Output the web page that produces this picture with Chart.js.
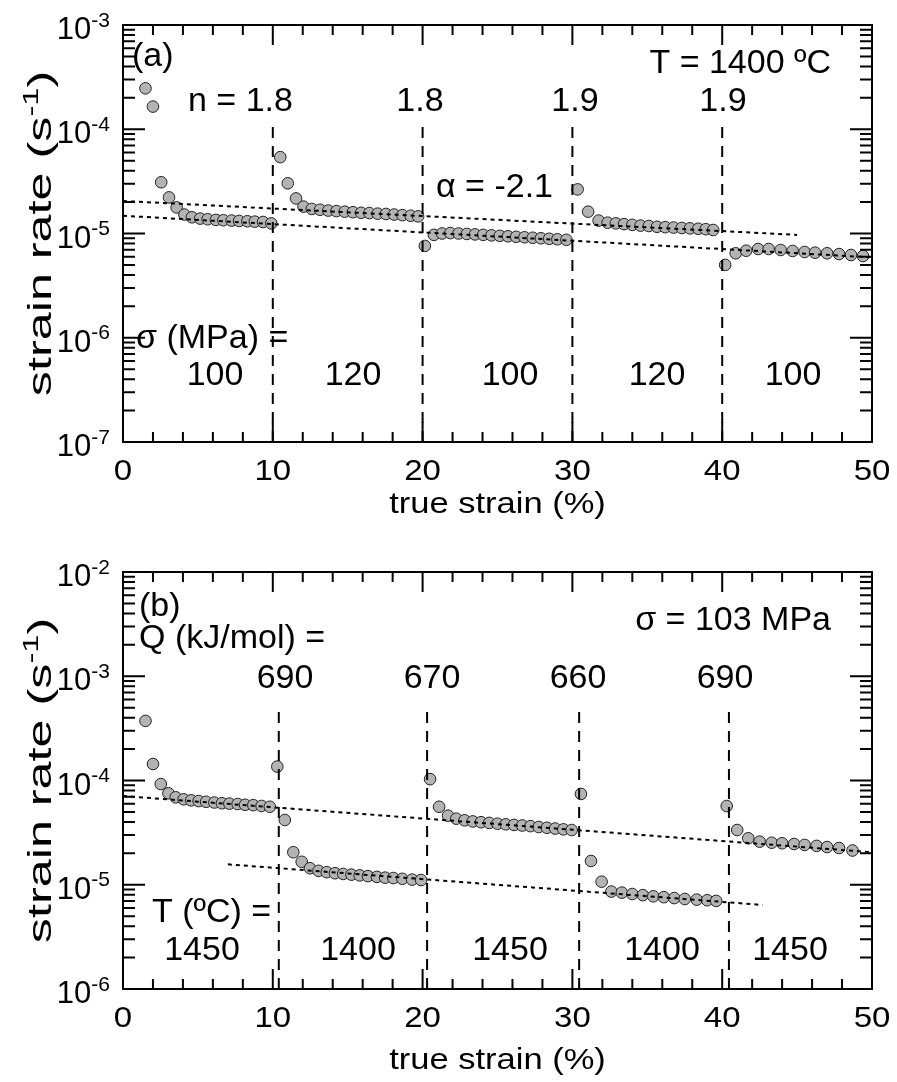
<!DOCTYPE html>
<html>
<head>
<meta charset="utf-8">
<script src="https://cdn.jsdelivr.net/npm/chart.js@4.4.1/dist/chart.umd.min.js"></script>
<style>
  body { margin: 0; background: #fff; }
  #wrap { position: relative; width: 897px; height: 1082px; }
  canvas { position: absolute; left: 0; }
</style>
</head>
<body>
<div id="wrap">
  <canvas id="chart-a" width="897" height="530" style="top:0"></canvas>
  <canvas id="chart-b" width="897" height="552" style="top:530px"></canvas>
</div>
<script>
// ---- panel (a): T = 1400 C, stress steps ----
const strainA = [
  1.5, 2.0, 2.55, 3.07, 3.58, 4.1, 4.6, 5.15, 5.65, 6.2, 6.7, 7.25, 7.75, 8.3, 8.8, 9.35, 9.9,
  10.5, 11.0, 11.55, 12.05, 12.6, 13.15, 13.7, 14.25, 14.8, 15.35, 15.9, 16.45, 17.0, 17.55, 18.1, 18.65, 19.2, 19.7,
  20.15, 20.75, 21.3, 21.85, 22.4, 22.95, 23.5, 24.05, 24.6, 25.15, 25.7, 26.25, 26.8, 27.35, 27.9, 28.45, 29.0, 29.6,
  30.35, 31.05, 31.75, 32.35, 32.9, 33.45, 34.0, 34.55, 35.1, 35.65, 36.2, 36.75, 37.3, 37.85, 38.4, 38.9, 39.4,
  40.2, 40.9, 41.6, 42.4, 43.1, 43.9, 44.7, 45.5, 46.2, 47.0, 47.8, 48.6, 49.4
];
const rateA = [
  2.47e-4, 1.65e-4, 3.1e-5, 2.22e-5, 1.78e-5, 1.52e-5, 1.43e-5, 1.39e-5, 1.37e-5, 1.35e-5, 1.34e-5, 1.33e-5, 1.32e-5, 1.31e-5, 1.30e-5, 1.29e-5, 1.25e-5,
  5.4e-5, 3.03e-5, 2.17e-5, 1.81e-5, 1.72e-5, 1.69e-5, 1.66e-5, 1.64e-5, 1.62e-5, 1.60e-5, 1.58e-5, 1.57e-5, 1.55e-5, 1.54e-5, 1.52e-5, 1.50e-5, 1.48e-5, 1.46e-5,
  7.6e-6, 9.7e-6, 1.0e-5, 1.01e-5, 1.0e-5, 9.9e-6, 9.8e-6, 9.7e-6, 9.6e-6, 9.5e-6, 9.4e-6, 9.3e-6, 9.2e-6, 9.1e-6, 9.0e-6, 8.9e-6, 8.8e-6, 8.7e-6,
  2.65e-5, 1.62e-5, 1.33e-5, 1.27e-5, 1.25e-5, 1.23e-5, 1.21e-5, 1.19e-5, 1.18e-5, 1.16e-5, 1.15e-5, 1.14e-5, 1.13e-5, 1.12e-5, 1.11e-5, 1.10e-5, 1.08e-5,
  5.0e-6, 6.46e-6, 6.84e-6, 7.1e-6, 7.1e-6, 6.95e-6, 6.8e-6, 6.65e-6, 6.55e-6, 6.46e-6, 6.35e-6, 6.22e-6, 6.08e-6
];
// fitted lines: [strain0, rate0, strain1, rate1]
const fitsA = [[0, 2.05e-5, 45, 9.7e-6], [0, 1.48e-5, 50, 5.9e-6]];
const stepsA = [10, 20, 30, 40];
const stepTopA = 1.15e-4;
const nLabels = ['n = 1.8', '1.8', '1.9', '1.9'];
const stressLabels = ['100', '120', '100', '120', '100'];

// ---- panel (b): sigma = 103 MPa, temperature steps ----
const strainB = [
  1.5, 2.0, 2.52, 3.03, 3.52, 4.05, 4.55, 5.05, 5.55, 6.1, 6.6, 7.1, 7.65, 8.15, 8.7, 9.25, 9.8,
  10.3, 10.8, 11.37, 11.93, 12.48, 13.05, 13.6, 14.15, 14.7, 15.25, 15.8, 16.35, 16.95, 17.5, 18.05, 18.65, 19.3, 19.9,
  20.5, 21.1, 21.7, 22.25, 22.8, 23.35, 23.9, 24.45, 25.0, 25.55, 26.1, 26.65, 27.2, 27.75, 28.3, 28.85, 29.4, 29.95,
  30.57, 31.24, 31.95, 32.6, 33.3, 34.0, 34.7, 35.4, 36.1, 36.8, 37.5, 38.3, 39.0, 39.6,
  40.3, 41.0, 41.74, 42.5, 43.3, 44.0, 44.8, 45.5, 46.3, 47.0, 47.8, 48.7
];
const rateB = [
  3.73e-4, 1.44e-4, 9.25e-5, 7.54e-5, 6.9e-5, 6.6e-5, 6.45e-5, 6.35e-5, 6.25e-5, 6.15e-5, 6.05e-5, 6.0e-5, 5.95e-5, 5.85e-5, 5.8e-5, 5.7e-5, 5.6e-5,
  1.36e-4, 4.18e-5, 2.05e-5, 1.66e-5, 1.44e-5, 1.36e-5, 1.32e-5, 1.29e-5, 1.27e-5, 1.25e-5, 1.23e-5, 1.21e-5, 1.19e-5, 1.17e-5, 1.16e-5, 1.14e-5, 1.12e-5, 1.11e-5,
  1.03e-4, 5.6e-5, 4.6e-5, 4.3e-5, 4.15e-5, 4.05e-5, 3.98e-5, 3.92e-5, 3.85e-5, 3.8e-5, 3.75e-5, 3.7e-5, 3.65e-5, 3.58e-5, 3.52e-5, 3.46e-5, 3.4e-5, 3.35e-5,
  7.43e-5, 1.69e-5, 1.07e-5, 8.6e-6, 8.4e-6, 8.15e-6, 7.95e-6, 7.75e-6, 7.6e-6, 7.45e-6, 7.3e-6, 7.2e-6, 7.1e-6, 7.0e-6,
  5.69e-5, 3.35e-5, 2.79e-5, 2.59e-5, 2.53e-5, 2.5e-5, 2.46e-5, 2.41e-5, 2.36e-5, 2.3e-5, 2.25e-5, 2.13e-5
];
const fitsB = [[0, 7.1e-5, 50, 2.05e-5], [7.0, 1.57e-5, 42.7, 6.4e-6]];
const stepsB = [10.4, 20.3, 30.45, 40.45];
const stepTopB = 5.1e-4;
const qLabels = ['690', '670', '660', '690'];
const tempLabels = ['1450', '1400', '1450', '1400', '1450'];

const FONT = '"Liberation Sans", Arial, sans-serif';

// draws a run list like [{t:'10'},{t:'-4',sup:true}]; y is the cap-centre line
function drawRich(ctx, runs, x, y, o) {
  const size = o.size, supSize = o.supSize || Math.round(size * 0.65), sx = o.sx || 1;
  let w = 0;
  runs.forEach(r => {
    ctx.font = `${r.sup ? supSize : size}px ${FONT}`;
    r.w = ctx.measureText(r.t).width;
    w += r.w;
  });
  ctx.save();
  ctx.translate(x, y);
  if (o.rotate) ctx.rotate(o.rotate);
  ctx.scale(sx, 1);
  let cx = o.align === 'right' ? -w : o.align === 'center' ? -w / 2 : 0;
  const base = size * 0.358;
  ctx.fillStyle = '#000';
  ctx.textBaseline = 'alphabetic';
  ctx.textAlign = 'left';
  runs.forEach(r => {
    ctx.font = `${r.sup ? supSize : size}px ${FONT}`;
    ctx.fillText(r.t, cx, r.sup ? base - size * 0.4 : base);
    cx += r.w;
  });
  ctx.restore();
}

const txt = s => [{t: s}];

// frame, inward ticks on all sides, tick labels, titles and notes
const figureDecor = {
  id: 'figureDecor',
  afterDatasetsDraw(chart, args, opts) {
    const {ctx, chartArea: a, scales: {x, y}} = chart;
    ctx.save();
    ctx.strokeStyle = '#000';
    ctx.lineWidth = 2;
    ctx.strokeRect(a.left, a.top, a.right - a.left, a.bottom - a.top);

    ctx.beginPath();
    x.ticks.forEach(t => {
      const px = x.getPixelForValue(t.value);
      const len = Math.round(t.value) % 10 === 0 ? 20 : 10;
      ctx.moveTo(px, a.bottom); ctx.lineTo(px, a.bottom - len);
      ctx.moveTo(px, a.top); ctx.lineTo(px, a.top + len);
    });
    const e0 = Math.round(Math.log10(y.min)), e1 = Math.round(Math.log10(y.max));
    for (let e = e0; e <= e1; e++) {
      for (let m = 1; m <= 9; m++) {
        const v = m * Math.pow(10, e);
        if (v > y.max * 1.001) continue;
        const py = y.getPixelForValue(v);
        const len = m === 1 ? 22 : 12;
        ctx.moveTo(a.left, py); ctx.lineTo(a.left + len, py);
        ctx.moveTo(a.right, py); ctx.lineTo(a.right - len, py);
      }
    }
    ctx.stroke();

    // y tick labels 10^n
    for (let e = e0; e <= e1; e++) {
      const py = y.getPixelForValue(Math.pow(10, e));
      drawRich(ctx, [{t: '10'}, {t: String(e), sup: true}], a.left - 13, py + 3, {size: 31, supSize: 21, align: 'right'});
    }
    // x tick labels
    x.ticks.forEach(t => {
      if (Math.round(t.value) % 10 !== 0) return;
      drawRich(ctx, txt(String(t.value)), x.getPixelForValue(t.value), a.bottom + 27, {size: 30, sx: 1.1, align: 'center'});
    });
    drawRich(ctx, txt('true strain (%)'), (a.left + a.right) / 2, a.bottom + opts.titleGap, {size: 30, sx: 1.15, align: 'center'});
    drawRich(ctx, [{t: 'strain rate (s'}, {t: '-1', sup: true}, {t: ')'}], 39, (a.top + a.bottom) / 2,
      {size: 34, supSize: 22, sx: 1.48, align: 'center', rotate: -Math.PI / 2});

    opts.notes.forEach(n => drawRich(ctx, txt(n.t), n.x, n.y, {size: 34, align: n.align || 'center'}));
    ctx.restore();
  }
};

function buildDatasets(strain, rate, fits, steps, stepTop, yMin) {
  const pts = {
    data: strain.map((s, i) => ({x: s, y: rate[i]})),
    pointRadius: 5.8,
    pointBackgroundColor: '#b3b3b3',
    pointBorderColor: '#222',
    pointBorderWidth: 1,
    showLine: false,
    order: 2
  };
  const dotted = fits.map(f => ({
    data: [{x: f[0], y: f[1]}, {x: f[2], y: f[3]}],
    showLine: true, borderColor: '#000', borderWidth: 2, borderDash: [4, 4],
    pointRadius: 0, order: 1
  }));
  const dashed = steps.map(s => ({
    data: [{x: s, y: yMin}, {x: s, y: stepTop}],
    showLine: true, borderColor: '#000', borderWidth: 2, borderDash: [11, 8],
    pointRadius: 0, order: 0
  }));
  return [pts, ...dotted, ...dashed];
}

function makeChart(id, yMin, yMax, xHeight, padTop, titleGap, datasets, notes) {
  return new Chart(document.getElementById(id), {
    type: 'scatter',
    data: {datasets},
    options: {
      responsive: false,
      animation: false,
      events: [],
      layout: {padding: {left: 0, top: padTop, right: 25, bottom: 0}},
      plugins: {legend: {display: false}, tooltip: {enabled: false}, figureDecor: {notes, titleGap}},
      scales: {
        x: {
          type: 'linear', min: 0, max: 50,
          ticks: {stepSize: 2, display: false},
          grid: {display: false}, border: {display: false},
          afterFit: s => { s.height = xHeight; }
        },
        y: {
          type: 'logarithmic', min: yMin, max: yMax,
          ticks: {display: false},
          grid: {display: false}, border: {display: false},
          afterFit: s => { s.width = 123; }
        }
      }
    },
    plugins: [figureDecor]
  });
}

const notesA = [
  {t: '(a)', x: 132, y: 54, align: 'left'},
  {t: nLabels[0], x: 188, y: 99, align: 'left'},
  {t: nLabels[1], x: 420, y: 99},
  {t: nLabels[2], x: 575, y: 99},
  {t: nLabels[3], x: 723, y: 99},
  {t: 'T = 1400 \u00BAC', x: 831, y: 61, align: 'right'},
  {t: '\u03B1 = -2.1', x: 436, y: 185, align: 'left'},
  {t: '\u03C3 (MPa) =', x: 136, y: 336, align: 'left'},
  {t: stressLabels[0], x: 215, y: 373},
  {t: stressLabels[1], x: 353, y: 373},
  {t: stressLabels[2], x: 510, y: 373},
  {t: stressLabels[3], x: 657, y: 373},
  {t: stressLabels[4], x: 793, y: 373}
];
const notesB = [
  {t: '(b)', x: 139, y: 74, align: 'left'},
  {t: 'Q (kJ/mol) =', x: 139, y: 106, align: 'left'},
  {t: qLabels[0], x: 285, y: 146},
  {t: qLabels[1], x: 432, y: 146},
  {t: qLabels[2], x: 578, y: 146},
  {t: qLabels[3], x: 725, y: 146},
  {t: '\u03C3 = 103 MPa', x: 831, y: 88, align: 'right'},
  {t: 'T (\u00BAC) =', x: 152, y: 380, align: 'left'},
  {t: tempLabels[0], x: 202, y: 418},
  {t: tempLabels[1], x: 358, y: 418},
  {t: tempLabels[2], x: 510, y: 418},
  {t: tempLabels[3], x: 662, y: 418},
  {t: tempLabels[4], x: 790, y: 418}
];

makeChart('chart-a', 1e-7, 1e-3, 88, 25, 60, buildDatasets(strainA, rateA, fitsA, stepsA, stepTopA, 1e-7), notesA);
makeChart('chart-b', 1e-6, 1e-2, 93, 42, 69, buildDatasets(strainB, rateB, fitsB, stepsB, stepTopB, 1e-6), notesB);
</script>
</body>
</html>
